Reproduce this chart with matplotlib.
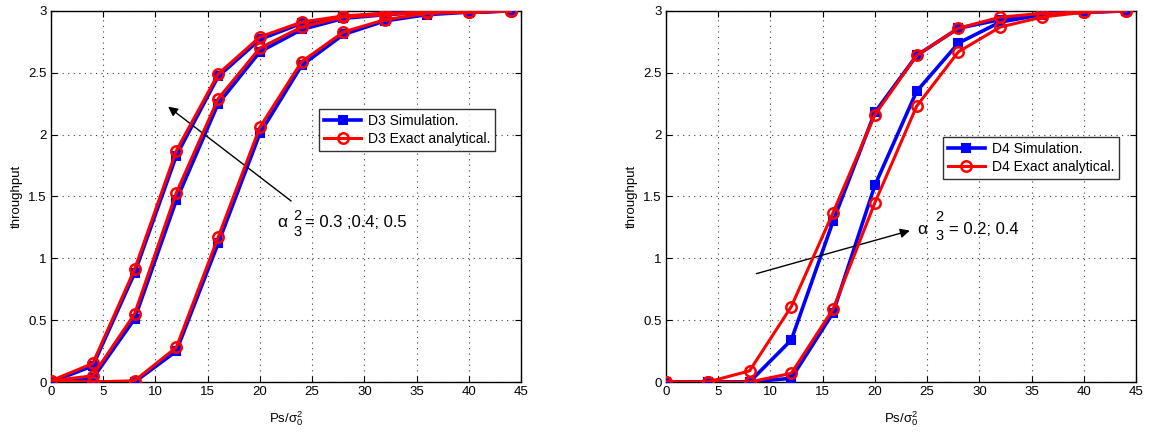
import matplotlib
matplotlib.use("Agg")
import matplotlib.pyplot as plt

plt.rcParams['font.family'] = ['Liberation Sans', 'DejaVu Sans']
plt.rcParams['mathtext.fontset'] = 'custom'
plt.rcParams['mathtext.rm'] = 'Liberation Sans'
plt.rcParams['mathtext.it'] = 'Liberation Sans'

# SNR axis (Ps / sigma_0^2)
snr = [0, 4, 8, 12, 16, 20, 24, 28, 32, 36, 40, 44]

# left panel: D3, alpha_3^2 = 0.3, 0.4, 0.5
d3_sim = [
    [0.00, 0.13, 0.88, 1.83, 2.47, 2.77, 2.90, 2.95, 2.98, 2.99, 2.99, 3.00],
    [0.00, 0.03, 0.51, 1.47, 2.25, 2.67, 2.85, 2.94, 2.97, 2.99, 2.99, 3.00],
    [0.00, 0.00, 0.00, 0.25, 1.12, 2.01, 2.56, 2.81, 2.92, 2.97, 2.99, 3.00],
]
d3_exact = [
    [0.01, 0.15, 0.91, 1.87, 2.49, 2.79, 2.91, 2.96, 2.98, 2.99, 2.99, 3.00],
    [0.01, 0.05, 0.55, 1.53, 2.29, 2.70, 2.87, 2.95, 2.97, 2.99, 2.99, 3.00],
    [0.01, 0.00, 0.01, 0.28, 1.17, 2.06, 2.59, 2.83, 2.93, 2.98, 2.99, 3.00],
]

# right panel: D4, alpha_3^2 = 0.2, 0.4
d4_sim = [
    [0.00, 0.00, 0.00, 0.34, 1.30, 2.18, 2.64, 2.86, 2.93, 2.98, 2.99, 3.00],
    [0.00, 0.00, 0.00, 0.03, 0.56, 1.59, 2.35, 2.74, 2.91, 2.97, 2.99, 3.00],
]
d4_exact = [
    [0.00, 0.00, 0.09, 0.61, 1.37, 2.16, 2.64, 2.86, 2.95, 2.98, 2.99, 3.00],
    [0.00, 0.00, 0.00, 0.07, 0.59, 1.45, 2.23, 2.67, 2.87, 2.95, 2.99, 3.00],
]

fig = plt.figure(figsize=(11.61, 4.32), dpi=100)
ax1 = fig.add_axes([0.0439, 0.1157, 0.4049, 0.859])
ax2 = fig.add_axes([0.5736, 0.1157, 0.4049, 0.859])


def draw_panel(ax, sims, exacts, name):
    for k, (s, e) in enumerate(zip(sims, exacts)):
        ax.plot(snr, s, color='blue', lw=2.6, marker='s', ms=6,
                mfc='blue', mec='blue', mew=1.5,
                label=name + ' Simulation.' if k == 0 else None, zorder=3)
        ax.plot(snr, e, color='red', lw=2.2, marker='o', ms=7.5,
                mfc='none', mec='red', mew=1.8,
                label=name + ' Exact analytical.' if k == 0 else None, zorder=4)
    ax.set_xlim(0, 45)
    ax.set_ylim(0, 3)
    ax.set_xticks(range(0, 46, 5))
    ax.set_yticks([0, 0.5, 1, 1.5, 2, 2.5, 3])
    ax.set_yticklabels(['0', '0.5', '1', '1.5', '2', '2.5', '3'])
    ax.grid(True, linestyle=(0, (1, 4)), color='0.25', lw=0.8)
    ax.tick_params(direction='in', top=True, right=True, labelsize=9.5,
                   length=4, width=0.8, pad=3)
    for sp in ax.spines.values():
        sp.set_linewidth(1.0)
    ax.set_xlabel(r'Ps/$\sigma_0^2$', fontsize=9.5, labelpad=8)
    ax.set_ylabel('throughput', fontsize=9.5, labelpad=4)


def alpha_label(ax, x, y, rest, sup_dx, sup_dy, sub_dy, rest_dx):
    # alpha with stacked ^2 and _3, MATLAB style
    px = 0.72
    ax.annotate('α', xy=(x, y), xytext=(0, 0), textcoords='offset points',
                fontsize=12.5, ha='left', va='center')
    ax.annotate('2', xy=(x, y), xytext=(sup_dx * px, sup_dy * px),
                textcoords='offset points', fontsize=10.5, ha='left', va='center')
    ax.annotate('3', xy=(x, y), xytext=(sup_dx * px, sub_dy * px),
                textcoords='offset points', fontsize=10.5, ha='left', va='center')
    ax.annotate(rest, xy=(x, y), xytext=(rest_dx * px, 0),
                textcoords='offset points', fontsize=12, ha='left', va='center')


draw_panel(ax1, d3_sim, d3_exact, 'D3')
draw_panel(ax2, d4_sim, d4_exact, 'D4')

legend_kw = dict(loc='upper left', fontsize=10, frameon=True, fancybox=False,
                 edgecolor='black', handlelength=2.7, borderpad=0.35,
                 labelspacing=0.3, handletextpad=0.5, borderaxespad=0)
leg1 = ax1.legend(bbox_to_anchor=(0.570, 0.736), **legend_kw)
leg1.get_frame().set_linewidth(1.0)
leg2 = ax2.legend(bbox_to_anchor=(0.589, 0.660), **legend_kw)
leg2.get_frame().set_linewidth(1.0)

ax1.annotate('', xy=(11.0, 2.24), xytext=(23.2, 1.45),
             arrowprops=dict(arrowstyle='-|>', color='black', lw=1.0,
                             mutation_scale=14))
alpha_label(ax1, 21.64, 1.286, '= 0.3 ;0.4; 0.5', 16, 7, -9, 28)

ax2.annotate('', xy=(23.6, 1.23), xytext=(8.4, 0.87),
             arrowprops=dict(arrowstyle='-|>', color='black', lw=1.0,
                             mutation_scale=14))
alpha_label(ax2, 24.03, 1.235, '= 0.2; 0.4', 18, 12, -7, 32)

fig.savefig('out.png', dpi=100)
